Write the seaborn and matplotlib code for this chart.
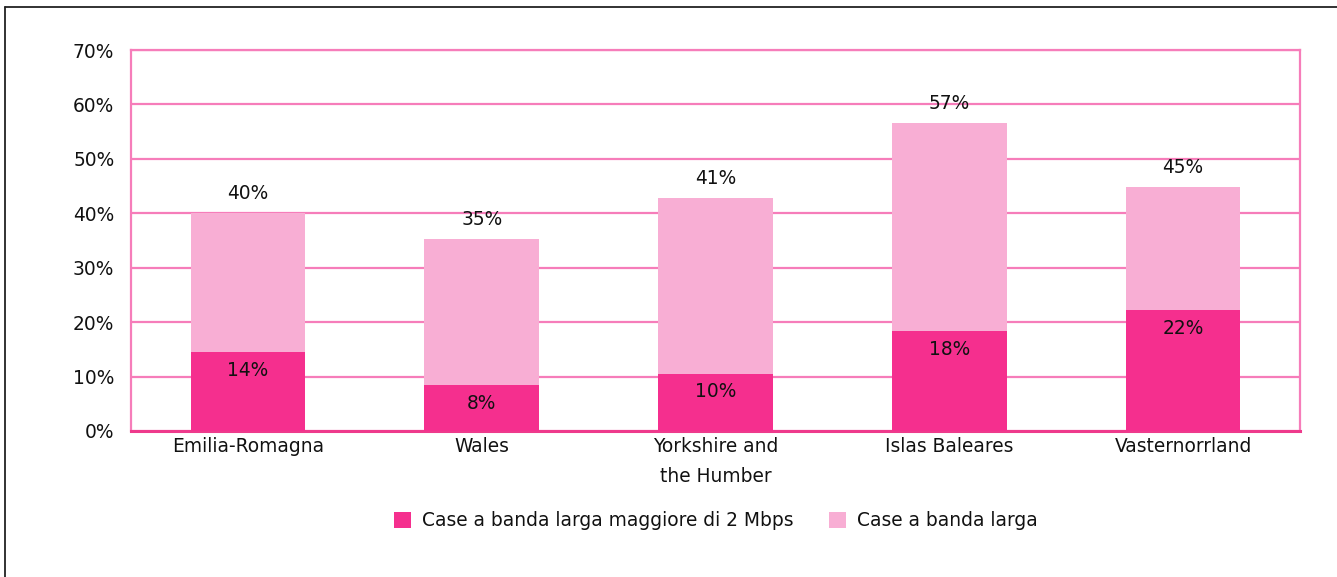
import matplotlib
matplotlib.use("Agg")
import matplotlib.pyplot as plt
from matplotlib.patches import Patch
from matplotlib.lines import Line2D
import seaborn as sns
import pandas as pd

# ---- data ----
regions = ["Emilia-Romagna", "Wales", "Yorkshire and\nthe Humber", "Islas Baleares", "Vasternorrland"]
broadband = [40.1, 35.2, 42.9, 56.6, 44.9]          # Case a banda larga
fast_broadband = [14.5, 8.4, 10.5, 18.3, 22.2]      # Case a banda larga maggiore di 2 Mbps
broadband_labels = ["40%", "35%", "41%", "57%", "45%"]
fast_labels = ["14%", "8%", "10%", "18%", "22%"]
yticks = [0, 10, 20, 30, 40, 50, 60, 70]
series_names = ["Case a banda larga maggiore di 2 Mbps", "Case a banda larga"]

DARK = "#F52F8E"
LIGHT = "#F8AED4"
GRID = "#F67DBA"
SPINE = "#EE3A8C"
TXT = "#111111"

sns.set_theme(style="white")
plt.rcParams["font.family"] = ["DejaVu Sans"]
FS = 13.4

df = pd.DataFrame({"region": regions, "total": broadband, "fast": fast_broadband})

fig = plt.figure(figsize=(13.37, 5.77), dpi=100)
ax = fig.add_axes([131 / 1337, 1 - 431 / 577, (1300 - 131) / 1337, (431 - 50) / 577])

sns.barplot(data=df, x="region", y="total", color=LIGHT, saturation=1, width=0.49,
            linewidth=0, ax=ax, zorder=2)
sns.barplot(data=df, x="region", y="fast", color=DARK, saturation=1, width=0.49,
            linewidth=0, ax=ax, zorder=3)

ax.set_ylim(0, 70)
ax.set_xlim(-0.5, len(regions) - 0.5)
ax.set_yticks(yticks)
ax.set_yticklabels([f"{v}%" for v in yticks])
ax.set_xlabel("")
ax.set_ylabel("")
ax.yaxis.grid(True, color=GRID, linewidth=1.6, zorder=0)
ax.set_axisbelow(True)
ax.tick_params(axis="y", length=0, pad=12, labelsize=FS, colors=TXT)
ax.tick_params(axis="x", length=0, pad=4.5, labelsize=FS, colors=TXT)
for lab in ax.get_xticklabels():
    lab.set_linespacing(1.7)

for side in ["left", "top", "right"]:
    ax.spines[side].set_color(GRID)
    ax.spines[side].set_linewidth(1.6)
ax.spines["bottom"].set_color(SPINE)
ax.spines["bottom"].set_linewidth(2.2)

for i, (t, f) in enumerate(zip(broadband, fast_broadband)):
    ax.annotate(broadband_labels[i], xy=(i, t), xytext=(0, 14), textcoords="offset points",
                ha="center", va="center", fontsize=FS, color=TXT, zorder=5)
    ax.annotate(fast_labels[i], xy=(i, f), xytext=(0, -13), textcoords="offset points",
                ha="center", va="center", fontsize=FS, color=TXT, zorder=5)

handles = [Patch(facecolor=DARK, edgecolor="none"), Patch(facecolor=LIGHT, edgecolor="none")]
fig.legend(handles, series_names, loc="center", bbox_to_anchor=(716 / 1337, 1 - 521 / 577), ncol=2,
           frameon=False, fontsize=FS, handlelength=0.9, handleheight=0.9,
           handletextpad=0.6, columnspacing=1.9, labelcolor=TXT)

# outer frame (left and top edges)
fig.add_artist(Line2D([5 / 1337, 5 / 1337], [0, 1 - 7 / 577], color="#222222", linewidth=1.3))
fig.add_artist(Line2D([5 / 1337, 1], [1 - 7 / 577, 1 - 7 / 577], color="#222222", linewidth=1.3))

fig.savefig("out.png", dpi=100)
